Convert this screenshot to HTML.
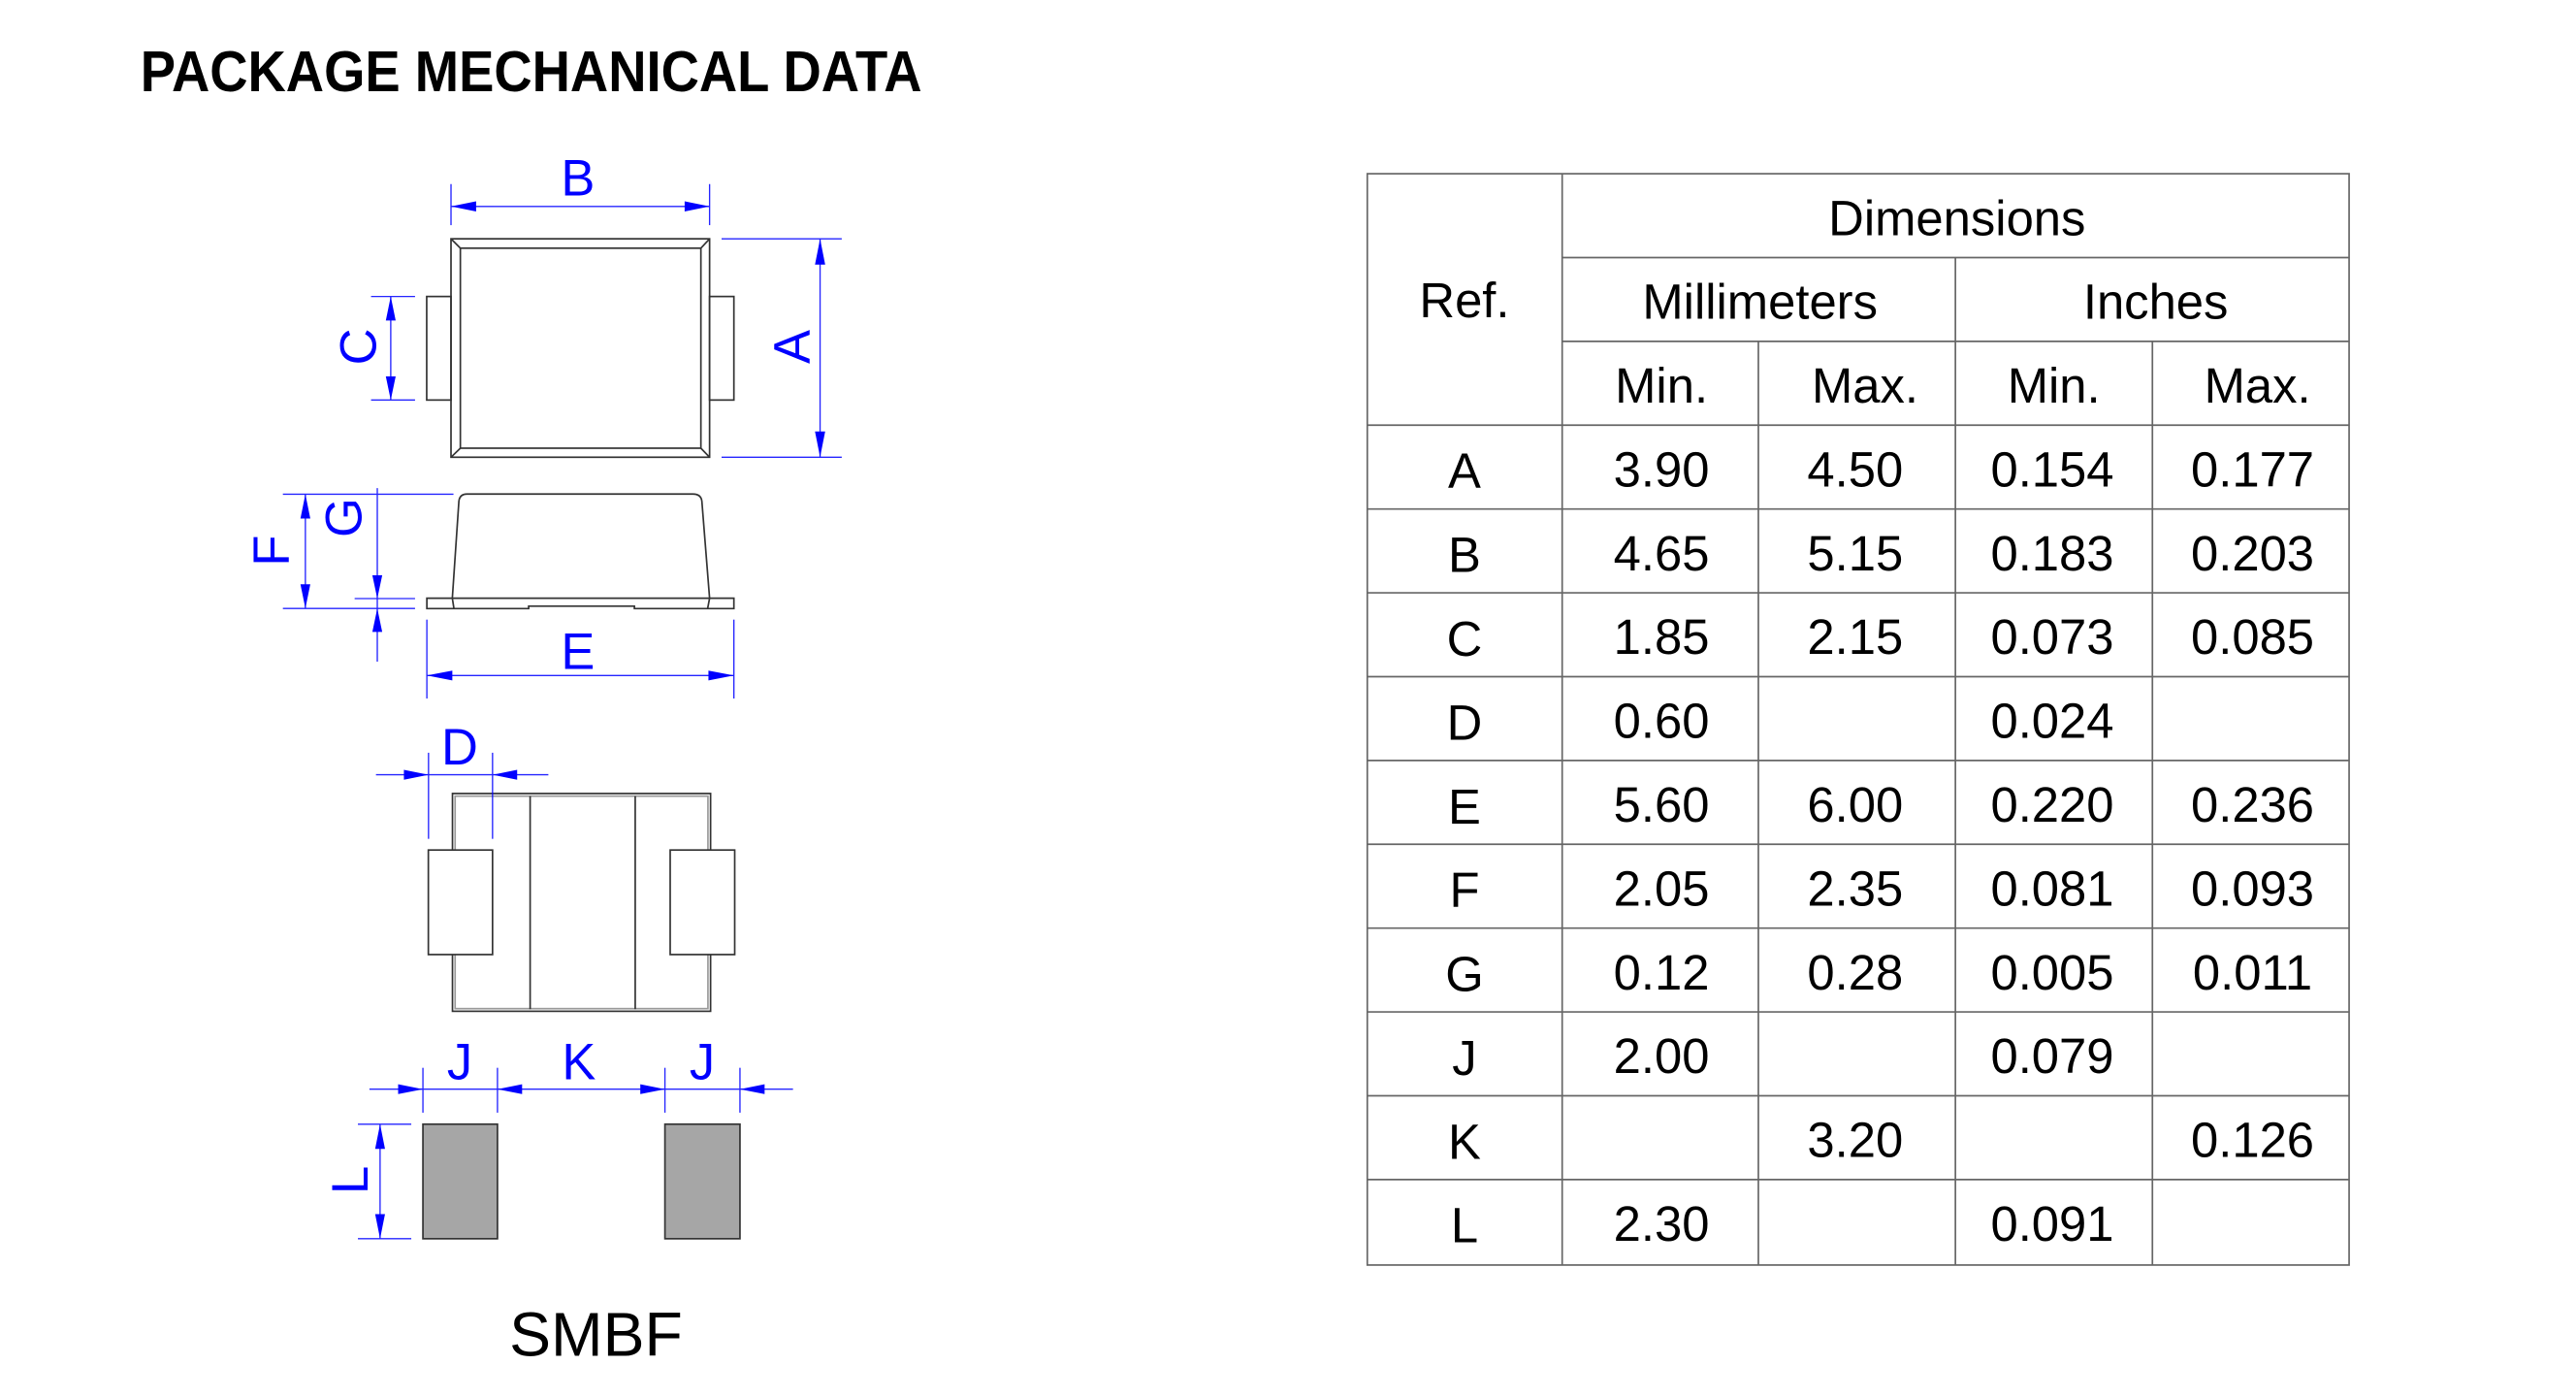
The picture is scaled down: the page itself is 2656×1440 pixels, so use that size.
<!DOCTYPE html>
<html><head><meta charset="utf-8"><style>html,body{margin:0;padding:0;background:#fff}svg{display:block}</style></head>
<body>
<svg width="2656" height="1440" viewBox="0 0 1569 850" preserveAspectRatio="none" xmlns="http://www.w3.org/2000/svg">
<rect width="1569" height="850" fill="#fff"/>
<text x="85.5" y="55.5" font-family="Liberation Sans, sans-serif" font-weight="bold" font-size="35" textLength="476" lengthAdjust="spacingAndGlyphs" fill="#000">PACKAGE MECHANICAL DATA</text>

<g stroke="#333" stroke-width="1" fill="none">
<rect x="274.7" y="145.3" width="157.5" height="132.9"/>
<rect x="280.4" y="151" width="146.5" height="121.7"/>
<line x1="274.7" y1="145.3" x2="280.4" y2="151"/><line x1="432.2" y1="145.3" x2="426.9" y2="151"/>
<line x1="274.7" y1="278.2" x2="280.4" y2="272.7"/><line x1="432.2" y1="278.2" x2="426.9" y2="272.7"/>
<rect x="259.9" y="180.4" width="14.8" height="63"/>
<rect x="432.2" y="180.4" width="14.8" height="63"/>
<path d="M275.5,364 L279.5,305 Q280,300.6 284.5,300.6 L422,300.6 Q427,300.6 427.5,305 L432.2,364"/>
<path d="M260,364 H447 V370.3 H386.4 V368.8 H322 V370.3 H260 Z"/>
<line x1="275.5" y1="364" x2="276.5" y2="370.3"/><line x1="432.2" y1="364" x2="431" y2="370.3"/>
<rect x="275.6" y="482.8" width="157.2" height="132.5"/>
<rect x="277.2" y="484.4" width="154" height="129.3" stroke="#999"/>
<line x1="322.9" y1="484.4" x2="322.9" y2="614"/>
<line x1="386.9" y1="484.4" x2="386.9" y2="614"/>
<rect x="260.9" y="517.2" width="39.1" height="63.6" fill="#fff"/>
<rect x="408.2" y="517.2" width="39.3" height="63.6" fill="#fff"/>
<rect x="257.6" y="684" width="45.4" height="69.7" fill="#a6a6a6"/>
<rect x="405" y="684" width="45.7" height="69.7" fill="#a6a6a6"/>
</g>

<g stroke="#0000ff" stroke-width="0.8" fill="none" opacity="0.85">
<line x1="274.7" y1="112" x2="274.7" y2="137"/><line x1="432.2" y1="112" x2="432.2" y2="137"/>
<line x1="274.7" y1="125.6" x2="432.2" y2="125.6"/>
<line x1="439.5" y1="145.3" x2="512.7" y2="145.3"/><line x1="439.5" y1="278.2" x2="512.7" y2="278.2"/>
<line x1="499.5" y1="145.3" x2="499.5" y2="278.2"/>
<line x1="226" y1="180.4" x2="252.8" y2="180.4"/><line x1="226" y1="243.4" x2="252.8" y2="243.4"/>
<line x1="238" y1="180.4" x2="238" y2="243.4"/>
<line x1="172.3" y1="300.7" x2="276.2" y2="300.7"/>
<line x1="172.3" y1="370.2" x2="252.8" y2="370.2"/>
<line x1="216" y1="364.2" x2="252.8" y2="364.2"/>
<line x1="186" y1="300.7" x2="186" y2="370.2"/>
<line x1="229.8" y1="297" x2="229.8" y2="402.6"/>
<line x1="260" y1="377" x2="260" y2="425"/><line x1="447" y1="377" x2="447" y2="425"/>
<line x1="260" y1="411" x2="447" y2="411"/>
<line x1="261" y1="458" x2="261" y2="510.4"/><line x1="300" y1="458" x2="300" y2="510.4"/>
<line x1="229" y1="471.4" x2="334" y2="471.4"/>
<line x1="257.6" y1="649.7" x2="257.6" y2="677"/><line x1="303" y1="649.7" x2="303" y2="677"/>
<line x1="405" y1="649.7" x2="405" y2="677"/><line x1="450.7" y1="649.7" x2="450.7" y2="677"/>
<line x1="225" y1="662.7" x2="483" y2="662.7"/>
<line x1="218" y1="684" x2="250.5" y2="684"/><line x1="218" y1="753.7" x2="250.5" y2="753.7"/>
<line x1="231.5" y1="684" x2="231.5" y2="753.7"/>
</g>

<g fill="#0000ff">
<polygon points="274.7,125.6 290,122.5 290,128.7"/><polygon points="432.2,125.6 417,122.5 417,128.7"/>
<polygon points="499.5,145.3 496.4,161 502.6,161"/><polygon points="499.5,278.2 496.4,262.5 502.6,262.5"/>
<polygon points="238,180.4 235,195 241,195"/><polygon points="238,243.4 235,229 241,229"/>
<polygon points="186,300.7 183,315.5 189,315.5"/><polygon points="186,370.2 183,355.5 189,355.5"/>
<polygon points="229.8,364.2 226.8,350 232.8,350"/><polygon points="229.8,370.2 226.8,384.5 232.8,384.5"/>
<polygon points="260,411 275.5,408 275.5,414"/><polygon points="447,411 431.5,408 431.5,414"/>
<polygon points="261,471.4 246,468.4 246,474.4"/><polygon points="300,471.4 315,468.4 315,474.4"/>
<polygon points="257.6,662.7 242.5,659.7 242.5,665.7"/>
<polygon points="303,662.7 318,659.7 318,665.7"/>
<polygon points="405,662.7 390,659.7 390,665.7"/>
<polygon points="450.7,662.7 465.7,659.7 465.7,665.7"/>
<polygon points="231.5,684 228.5,699 234.5,699"/><polygon points="231.5,753.7 228.5,738.7 234.5,738.7"/>
</g>

<g font-family="Liberation Sans, sans-serif" font-size="31" fill="#0000ff" text-anchor="middle">
<text x="352" y="119">B</text>
<text transform="translate(493,211) rotate(-90)">A</text>
<text transform="translate(229,211) rotate(-90)">C</text>
<text transform="translate(176,335) rotate(-90)">F</text>
<text transform="translate(220,315) rotate(-90)">G</text>
<text x="352" y="407">E</text>
<text x="280" y="465">D</text>
<text x="280" y="656.8">J</text>
<text x="352.6" y="656.8">K</text>
<text x="427.7" y="656.8">J</text>
<text transform="translate(224,718) rotate(-90)">L</text>
</g>
<text x="363" y="825" font-family="Liberation Sans, sans-serif" font-size="38" text-anchor="middle" fill="#000">SMBF</text>

<g stroke="#666" stroke-width="1" fill="none">
<rect x="832.8" y="105.7" width="598" height="664"/>
<line x1="951.5" y1="105.7" x2="951.5" y2="769.7"/>
<line x1="1071" y1="207.7" x2="1071" y2="769.7"/>
<line x1="1191" y1="156.7" x2="1191" y2="769.7"/>
<line x1="1311" y1="207.7" x2="1311" y2="769.7"/>
<line x1="951.5" y1="156.7" x2="1430.8" y2="156.7"/>
<line x1="951.5" y1="207.7" x2="1430.8" y2="207.7"/>
<line x1="832.8" y1="258.7" x2="1430.8" y2="258.7"/>
<line x1="832.8" y1="309.7" x2="1430.8" y2="309.7"/>
<line x1="832.8" y1="360.7" x2="1430.8" y2="360.7"/>
<line x1="832.8" y1="411.7" x2="1430.8" y2="411.7"/>
<line x1="832.8" y1="462.7" x2="1430.8" y2="462.7"/>
<line x1="832.8" y1="513.7" x2="1430.8" y2="513.7"/>
<line x1="832.8" y1="564.7" x2="1430.8" y2="564.7"/>
<line x1="832.8" y1="615.7" x2="1430.8" y2="615.7"/>
<line x1="832.8" y1="666.7" x2="1430.8" y2="666.7"/>
<line x1="832.8" y1="717.7" x2="1430.8" y2="717.7"/>
</g>
<g font-family="Liberation Sans, sans-serif" font-size="30" fill="#000" text-anchor="middle">
<text x="1192" y="143">Dimensions</text>
<text x="892" y="193">Ref.</text>
<text x="1072" y="194">Millimeters</text>
<text x="1313" y="194">Inches</text>
<text x="1012" y="245">Min.</text><text x="1136" y="245">Max.</text><text x="1251" y="245">Min.</text><text x="1375" y="245">Max.</text>
<text x="892" y="297">A</text><text x="1012" y="296">3.90</text><text x="1130" y="296">4.50</text><text x="1250" y="296">0.154</text><text x="1372" y="296">0.177</text>
<text x="892" y="348">B</text><text x="1012" y="347">4.65</text><text x="1130" y="347">5.15</text><text x="1250" y="347">0.183</text><text x="1372" y="347">0.203</text>
<text x="892" y="399">C</text><text x="1012" y="398">1.85</text><text x="1130" y="398">2.15</text><text x="1250" y="398">0.073</text><text x="1372" y="398">0.085</text>
<text x="892" y="450">D</text><text x="1012" y="449">0.60</text><text x="1250" y="449">0.024</text>
<text x="892" y="501">E</text><text x="1012" y="500">5.60</text><text x="1130" y="500">6.00</text><text x="1250" y="500">0.220</text><text x="1372" y="500">0.236</text>
<text x="892" y="552">F</text><text x="1012" y="551">2.05</text><text x="1130" y="551">2.35</text><text x="1250" y="551">0.081</text><text x="1372" y="551">0.093</text>
<text x="892" y="603">G</text><text x="1012" y="602">0.12</text><text x="1130" y="602">0.28</text><text x="1250" y="602">0.005</text><text x="1372" y="602">0.011</text>
<text x="892" y="654">J</text><text x="1012" y="653">2.00</text><text x="1250" y="653">0.079</text>
<text x="892" y="705">K</text><text x="1130" y="704">3.20</text><text x="1372" y="704">0.126</text>
<text x="892" y="756">L</text><text x="1012" y="755">2.30</text><text x="1250" y="755">0.091</text>
</g>
</svg>
</body></html>
